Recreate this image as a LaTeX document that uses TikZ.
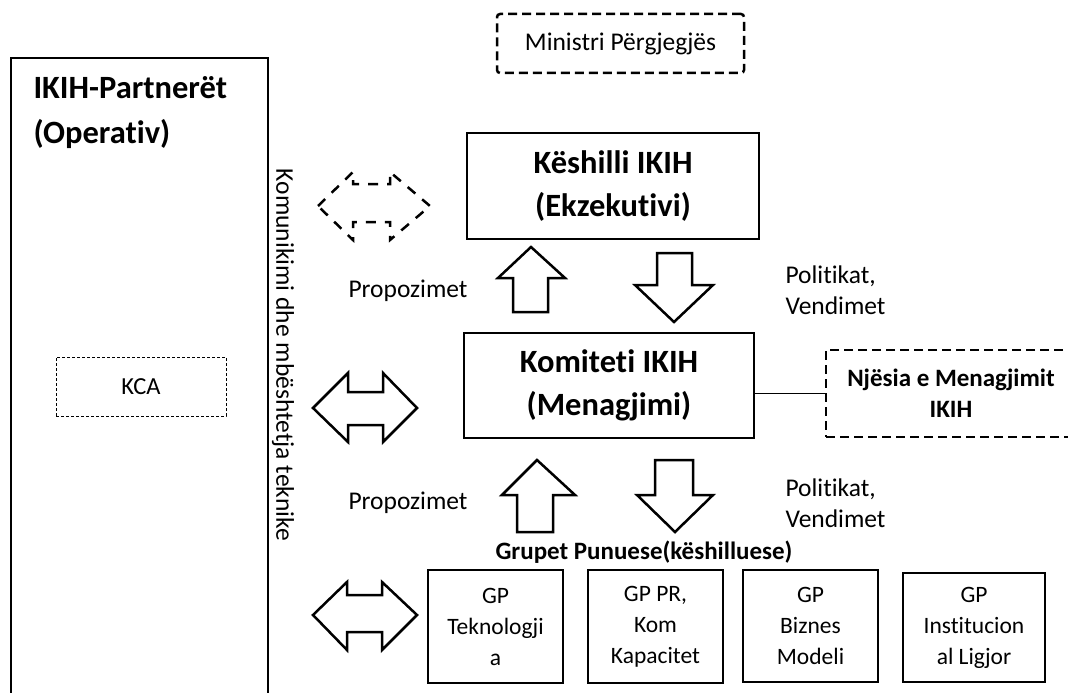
\documentclass[tikz,border=0pt]{standalone}
\usepackage{fontspec}
\setmainfont{Carlito}[Ligatures=NoCommon,RawFeature={-calt;-clig;-dlig}]
\tikzset{
  box/.style={draw,line width=2.5pt,inner sep=0pt,align=center},
  dashbox/.style={box,dash pattern=on 9pt off 5pt},
  plain/.style={font=\fontsize{25.5}{31}\selectfont,align=left},
  title/.style={font=\bfseries\fontsize{32.5}{43}\selectfont,align=center},
  subtitle/.style={font=\bfseries\fontsize{25}{31}\selectfont,align=center},
  gptext/.style={font=\fontsize{23.5}{31}\selectfont,align=center},
  blockarrow/.style={draw,line width=2.5pt,line join=miter}
}
\begin{document}
\begin{tikzpicture}[x=1pt,y=-1pt]
    \useasboundingbox (0,0) rectangle (1068,693);
    \clip (0,0) rectangle (1068,693);
    % partners, left
    \node[box,minimum width=257pt,minimum height=660pt] (partner) at (139.5,388) {};
    \node[title,anchor=base west] (ptitle) at (30,98) {IKIH-Partnerët};
    \node[title,anchor=base west] (pop) at (30,143) {(Operativ)};
    \node[box,line width=1pt,dash pattern=on 3pt off 2pt,minimum width=170pt,minimum height=59pt,
          font=\fontsize{24.5}{30}\selectfont] (kca) at (141,386.5) {KCA};
    \node[plain,rotate=-90] (komunikimi) at (283,355) {Komunikimi dhe mbështetja teknike};
    % top
    \node[dashbox,rounded corners=3pt,minimum width=247pt,minimum height=59pt,
          font=\fontsize{25.5}{30}\selectfont] (ministri) at (620.5,43.5) {Ministri Përgjegjës};
    \node[box,title,minimum width=292pt,minimum height=106pt] (keshilli) at (613,186) {Këshilli IKIH\\(Ekzekutivi)};
    \node[box,title,minimum width=290pt,minimum height=105pt] (komiteti) at (609,385.5) {Komiteti IKIH\\(Menagjimi)};
    \node[dashbox,subtitle,minimum width=250pt,minimum height=87pt] (njesia) at (951,393.5) {Njësia e Menagjimit\\IKIH};
    \draw[line width=1pt] (komiteti.east |- njesia.west) -- (njesia.west);
    % labels
    \node[plain] (prop1) at (408,291) {Propozimet};
    \node[plain,anchor=west] (pol1) at (782,290) {Politikat,\\Vendimet};
    \node[plain] (prop2) at (408,503) {Propozimet};
    \node[plain,anchor=west] (pol2) at (782,503) {Politikat,\\Vendimet};
    \node[subtitle] (grupet) at (644,552) {Grupet Punuese(këshilluese)};
    % working groups
    \node[box,gptext,minimum width=135pt,minimum height=113pt] (gp1) at (495.5,626.5) {GP\\Teknologji\\a};
    \node[box,gptext,minimum width=135pt,minimum height=113pt] (gp2) at (655.5,626.5) {GP PR,\\Kom\\Kapacitet};
    \node[box,gptext,minimum width=135pt,minimum height=112pt] (gp3) at (810.5,626) {GP\\Biznes\\Modeli};
    \node[box,gptext,minimum width=142pt,minimum height=109pt] (gp4) at (974,627.5) {GP\\Institucion\\al Ligjor};
    % block arrows
    \draw[blockarrow] (531,247)--(565,278)--(548,278)--(548,312)--(513,312)--(513,278)--(498,278)--cycle;
    \draw[blockarrow] (674,322)--(713,285)--(692,285)--(692,253)--(657,253)--(657,285)--(635,285)--cycle;
    \draw[blockarrow] (537,460)--(575,495)--(553,495)--(553,532)--(517,532)--(517,495)--(502,495)--cycle;
    \draw[blockarrow] (675,532)--(713,495)--(693,495)--(693,460)--(655,460)--(655,495)--(637,495)--cycle;
    \draw[blockarrow] (313,408)--(348,373)--(348,392)--(383,392)--(383,373)--(417,408)--(383,442)--(383,425)--(348,425)--(348,442)--cycle;
    \draw[blockarrow] (313,615)--(347,582)--(347,595)--(382,595)--(382,582)--(417,615)--(382,650)--(382,632)--(347,632)--(347,650)--cycle;
    \draw[blockarrow,dash pattern=on 10pt off 9pt] (318,206)--(353,172)--(353,184)--(390,184)--(390,172)--(430,206)--(390,240)--(390,222)--(353,222)--(353,240)--cycle;
\end{tikzpicture}
\end{document}
